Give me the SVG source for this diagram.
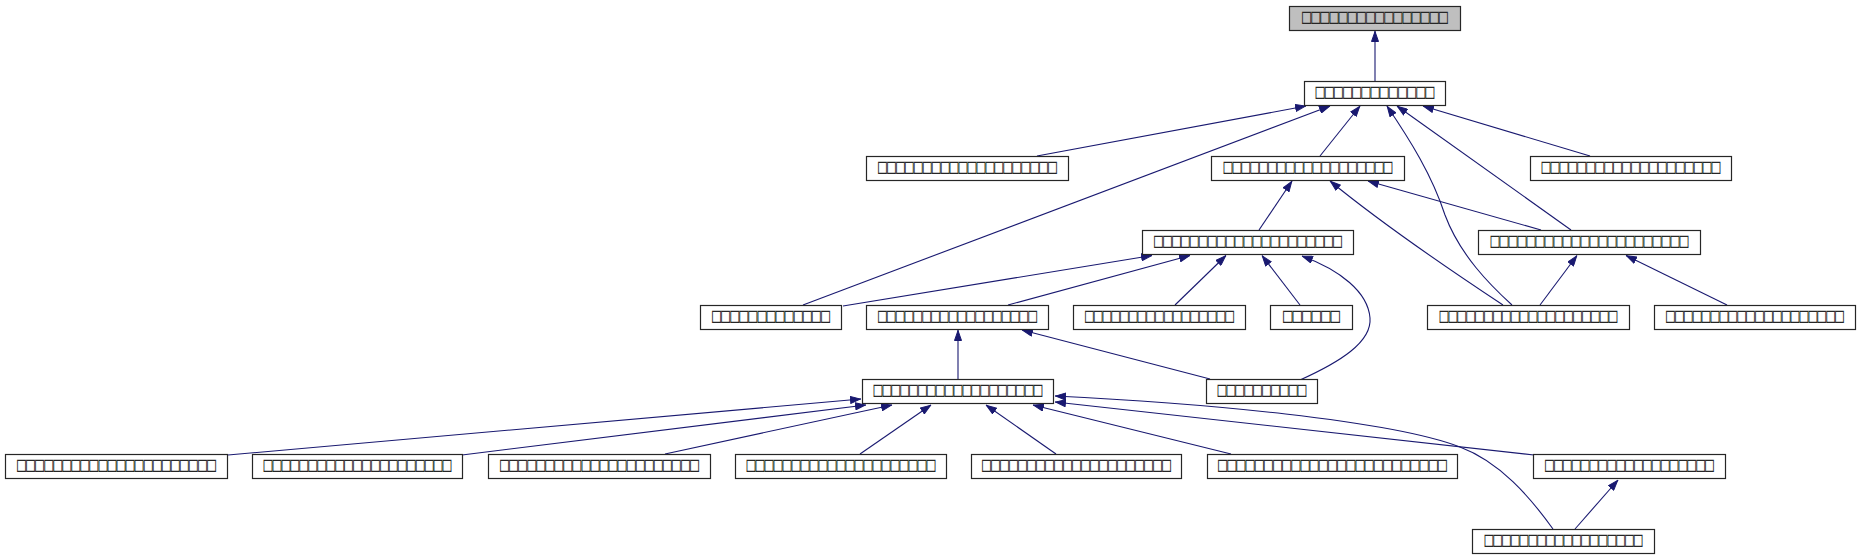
<svg xmlns="http://www.w3.org/2000/svg" width="1862" height="560" viewBox="0 0 1862 560">
<style>
.nd rect{fill:#ffffff;stroke:#262626;stroke-width:1.2}
.nd text{font-family:"DejaVu Sans Mono",monospace;font-size:15px;fill:#262626;text-anchor:middle}
#n0 rect{fill:#bfbfbf}
.ed path{fill:none;stroke:#191970;stroke-width:1.1;marker-end:url(#ah)}
</style>
<defs>
<marker id="ah" viewBox="0 0 11 8" refX="11" refY="4" markerWidth="11" markerHeight="8" markerUnits="userSpaceOnUse" orient="auto">
<path d="M0.5,0.5 L10.5,4 L0.5,7.5 z" fill="#191970" stroke="#191970" stroke-width="1"/>
</marker>
</defs>
<rect width="1862" height="560" fill="#ffffff"/>
<g class="ed" id="edges">
<path d="M1375,81 L1375,31"/>
<path d="M1037,156 L1306,106"/>
<path d="M803,305 L1330,106"/>
<path d="M1320,156 L1360,106"/>
<path d="M1512,305 C1490,285 1460,255 1445,215 C1432,175 1410,140 1387,106"/>
<path d="M1571,230 L1397,106"/>
<path d="M1590,156 L1423,106"/>
<path d="M1259,230 L1292,181"/>
<path d="M1503,305 C1450,270 1380,222 1330,181"/>
<path d="M1541,230 L1368,181"/>
<path d="M843,306 L1152,255.5"/>
<path d="M1008,305 L1190,255.5"/>
<path d="M1175,305 L1226,255.5"/>
<path d="M1300,305 L1262,255.5"/>
<path d="M1300,380 C1340,362 1372,342 1370,318 C1368,292 1340,270 1302,256"/>
<path d="M1540,305 L1577,255.5"/>
<path d="M1727,305 L1626,255.5"/>
<path d="M958,379 L958,330"/>
<path d="M1210,379 L1022,330"/>
<path d="M228,455 L861,399"/>
<path d="M462,455 L866,405"/>
<path d="M665,454 L892,405"/>
<path d="M860,454 L931,405"/>
<path d="M1056,454 L986,405"/>
<path d="M1231,454 L1033,405"/>
<path d="M1534,455 L1055,402"/>
<path d="M1553,529 C1530,497 1500,462 1460,447 C1390,420 1200,403 1055,396"/>
<path d="M1575,529 L1618,480"/>
</g>
<g class="nd" id="n0"><rect x="1289.5" y="6.5" width="171" height="24"/><text transform="translate(1375,22.5) scale(1,1.35)" textLength="146" lengthAdjust="spacingAndGlyphs">□□□□□□□□□□□□□□□□</text></g>
<g class="nd" id="n1"><rect x="1304.5" y="81.5" width="141" height="24"/><text transform="translate(1375,97.5) scale(1,1.35)" textLength="119" lengthAdjust="spacingAndGlyphs">□□□□□□□□□□□□□</text></g>
<g class="nd" id="nB"><rect x="866.5" y="156.5" width="202" height="24"/><text transform="translate(967.5,172.5) scale(1,1.35)" textLength="179" lengthAdjust="spacingAndGlyphs">□□□□□□□□□□□□□□□□□□□□</text></g>
<g class="nd" id="nC"><rect x="1211.5" y="156.5" width="193" height="24"/><text transform="translate(1308,172.5) scale(1,1.35)" textLength="169" lengthAdjust="spacingAndGlyphs">□□□□□□□□□□□□□□□□□□□</text></g>
<g class="nd" id="nD"><rect x="1530.5" y="156.5" width="201" height="24"/><text transform="translate(1631,172.5) scale(1,1.35)" textLength="179" lengthAdjust="spacingAndGlyphs">□□□□□□□□□□□□□□□□□□□□</text></g>
<g class="nd" id="nE"><rect x="1142.5" y="230.5" width="211" height="24"/><text transform="translate(1248,246.5) scale(1,1.35)" textLength="188" lengthAdjust="spacingAndGlyphs">□□□□□□□□□□□□□□□□□□□□□</text></g>
<g class="nd" id="nF"><rect x="1478.5" y="230.5" width="222" height="24"/><text transform="translate(1589.5,246.5) scale(1,1.35)" textLength="198" lengthAdjust="spacingAndGlyphs">□□□□□□□□□□□□□□□□□□□□□□</text></g>
<g class="nd" id="nG"><rect x="700.5" y="305.5" width="141" height="24"/><text transform="translate(771,321.5) scale(1,1.35)" textLength="118" lengthAdjust="spacingAndGlyphs">□□□□□□□□□□□□□</text></g>
<g class="nd" id="nH"><rect x="866.5" y="305.5" width="182" height="24"/><text transform="translate(957.5,321.5) scale(1,1.35)" textLength="159" lengthAdjust="spacingAndGlyphs">□□□□□□□□□□□□□□□□□□</text></g>
<g class="nd" id="nI"><rect x="1073.5" y="305.5" width="172" height="24"/><text transform="translate(1159.5,321.5) scale(1,1.35)" textLength="149" lengthAdjust="spacingAndGlyphs">□□□□□□□□□□□□□□□□□</text></g>
<g class="nd" id="nJ"><rect x="1270.5" y="305.5" width="82" height="24"/><text transform="translate(1311.5,321.5) scale(1,1.35)" textLength="57" lengthAdjust="spacingAndGlyphs">□□□□□□</text></g>
<g class="nd" id="nK"><rect x="1427.5" y="305.5" width="202" height="24"/><text transform="translate(1528.5,321.5) scale(1,1.35)" textLength="178" lengthAdjust="spacingAndGlyphs">□□□□□□□□□□□□□□□□□□□□</text></g>
<g class="nd" id="nL"><rect x="1654.5" y="305.5" width="201" height="24"/><text transform="translate(1755,321.5) scale(1,1.35)" textLength="178" lengthAdjust="spacingAndGlyphs">□□□□□□□□□□□□□□□□□□□□</text></g>
<g class="nd" id="nM"><rect x="862.5" y="379.5" width="191" height="24"/><text transform="translate(958,395.5) scale(1,1.35)" textLength="169" lengthAdjust="spacingAndGlyphs">□□□□□□□□□□□□□□□□□□□</text></g>
<g class="nd" id="nN"><rect x="1206.5" y="379.5" width="111" height="24"/><text transform="translate(1262,395.5) scale(1,1.35)" textLength="89" lengthAdjust="spacingAndGlyphs">□□□□□□□□□□</text></g>
<g class="nd" id="nP1"><rect x="5.5" y="454.5" width="222" height="24"/><text transform="translate(116.5,470.5) scale(1,1.35)" textLength="199" lengthAdjust="spacingAndGlyphs">□□□□□□□□□□□□□□□□□□□□□□</text></g>
<g class="nd" id="nP2"><rect x="252.5" y="454.5" width="210" height="24"/><text transform="translate(357.5,470.5) scale(1,1.35)" textLength="188" lengthAdjust="spacingAndGlyphs">□□□□□□□□□□□□□□□□□□□□□</text></g>
<g class="nd" id="nP3"><rect x="488.5" y="454.5" width="222" height="24"/><text transform="translate(599.5,470.5) scale(1,1.35)" textLength="199" lengthAdjust="spacingAndGlyphs">□□□□□□□□□□□□□□□□□□□□□□</text></g>
<g class="nd" id="nP4"><rect x="735.5" y="454.5" width="211" height="24"/><text transform="translate(841,470.5) scale(1,1.35)" textLength="189" lengthAdjust="spacingAndGlyphs">□□□□□□□□□□□□□□□□□□□□□</text></g>
<g class="nd" id="nP5"><rect x="971.5" y="454.5" width="210" height="24"/><text transform="translate(1076.5,470.5) scale(1,1.35)" textLength="189" lengthAdjust="spacingAndGlyphs">□□□□□□□□□□□□□□□□□□□□□</text></g>
<g class="nd" id="nP6"><rect x="1207.5" y="454.5" width="250" height="24"/><text transform="translate(1332.5,470.5) scale(1,1.35)" textLength="229" lengthAdjust="spacingAndGlyphs">□□□□□□□□□□□□□□□□□□□□□□□□□</text></g>
<g class="nd" id="nQ"><rect x="1533.5" y="454.5" width="192" height="24"/><text transform="translate(1629.5,470.5) scale(1,1.35)" textLength="169" lengthAdjust="spacingAndGlyphs">□□□□□□□□□□□□□□□□□□□</text></g>
<g class="nd" id="nS"><rect x="1472.5" y="529.5" width="182" height="24"/><text transform="translate(1563.5,545.5) scale(1,1.35)" textLength="158" lengthAdjust="spacingAndGlyphs">□□□□□□□□□□□□□□□□□□</text></g>
</svg>
